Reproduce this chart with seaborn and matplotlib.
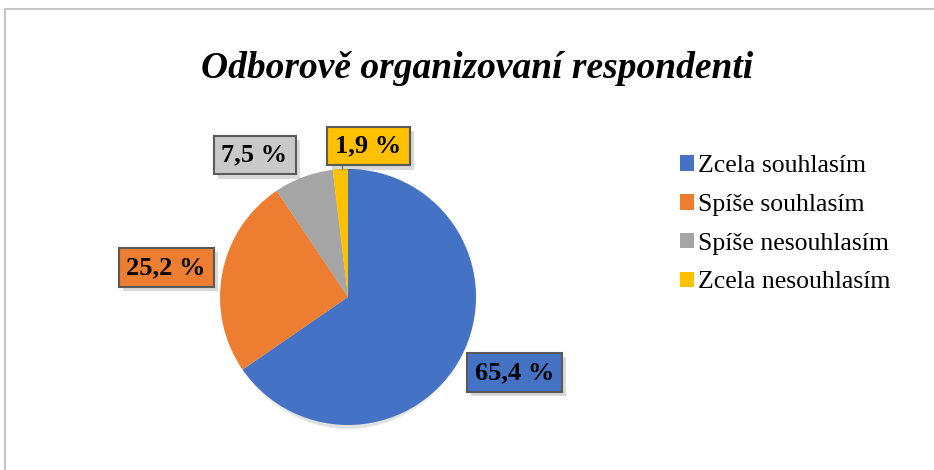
import numpy as np
import matplotlib
matplotlib.use("Agg")
import matplotlib.pyplot as plt
import matplotlib.patheffects as pe
from matplotlib.patches import Rectangle, Circle
import seaborn as sns

# data
categories = ["Zcela souhlasím", "Spíše souhlasím", "Spíše nesouhlasím", "Zcela nesouhlasím"]
shares = [65.4, 25.2, 7.5, 1.9]
labels = ["65,4 %", "25,2 %", "7,5 %", "1,9 %"]
title = "Odborově organizovaní respondenti"

colors = ["#4472C4", "#ED7D31", "#A5A5A5", "#FFC000"]
box_colors = ["#4472C4", "#ED7D31", "#C9C9C9", "#FFC000"]
# label positions in units of pie radius (Excel "best fit" placement)
label_pos = [(1.30, -0.59), (-1.42, 0.23), (-0.73, 1.11), (0.16, 1.18)]

sns.set_theme(style="white")
plt.rcParams["font.family"] = ["Liberation Serif", "DejaVu Serif"]

W, H = 934, 470
fig = plt.figure(figsize=(W / 100, H / 100), dpi=100)
fig.patch.set_facecolor("white")

# chart frame (clipped at right and bottom like the screenshot)
fig.add_artist(Rectangle((4.5 / W, -0.1), 1.2, 1.1 - 8.5 / H, transform=fig.transFigure,
                         fill=False, edgecolor="#C8C8C8", linewidth=1.5))

fig.text(477 / W, 1 - 69 / H, title, ha="center", va="center",
         fontsize=27, fontweight="bold", fontstyle="italic", color="black")

# pie axes: center (348, 297), radius 128 px
cx, cy, r = 348, 297, 128
ax = fig.add_axes([(cx - r) / W, 1 - (cy + r) / H, 2 * r / W, 2 * r / H])

# soft shadow under the pie (mostly below)
for k in range(5):
    ax.add_patch(Circle((0.0, -0.04 - 0.03 * k), 0.99 - 0.03 * k, facecolor="black",
                        alpha=0.025, edgecolor="none", zorder=0, clip_on=False))

wedges, _ = ax.pie(shares, colors=colors, startangle=90, counterclock=False,
                   radius=1, wedgeprops=dict(linewidth=0, zorder=2))
ax.set_xlim(-1, 1)
ax.set_ylim(-1, 1)
ax.set_aspect("equal")
ax.axis("off")

# leader line for the small slice
ax.plot([-0.05, -0.05], [0.99, 1.04], color="#7F7F7F", lw=1, clip_on=False, zorder=1)

for (x, y), lab, bc in zip(label_pos, labels, box_colors):
    t = ax.text(x, y, lab, ha="center", va="center", fontsize=19, fontweight="bold",
                color="black", clip_on=False, zorder=5,
                bbox=dict(boxstyle="square,pad=0.3", facecolor=bc,
                          edgecolor="#5A5A5A", linewidth=1.5))
    t.get_bbox_patch().set_path_effects([
        pe.SimplePatchShadow(offset=(3, -3), shadow_rgbFace="#000000", alpha=0.15),
        pe.Normal()])

handles = [Rectangle((0, 0), 1, 1, facecolor=c, edgecolor="none") for c in colors]
leg = fig.legend(handles, categories, loc="upper left", bbox_to_anchor=(670 / W, 1 - 145 / H),
                 frameon=False, fontsize=18.5, handlelength=0.55, handleheight=0.55,
                 handletextpad=0.15, labelspacing=0.65, borderaxespad=0)
for txt in leg.get_texts():
    txt.set_color("black")

fig.savefig("out.png", dpi=100)
